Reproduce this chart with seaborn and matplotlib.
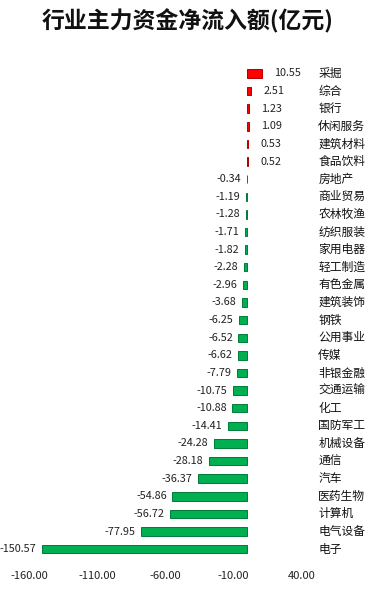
import matplotlib
matplotlib.use("Agg")
import matplotlib.pyplot as plt
import matplotlib.transforms as mtransforms
import seaborn as sns
import pandas as pd

categories = ["采掘", "综合", "银行", "休闲服务", "建筑材料", "食品饮料", "房地产",
              "商业贸易", "农林牧渔", "纺织服装", "家用电器", "轻工制造", "有色金属",
              "建筑装饰", "钢铁", "公用事业", "传媒", "非银金融", "交通运输", "化工",
              "国防军工", "机械设备", "通信", "汽车", "医药生物", "计算机", "电气设备", "电子"]
values = [10.55, 2.51, 1.23, 1.09, 0.53, 0.52, -0.34,
          -1.19, -1.28, -1.71, -1.82, -2.28, -2.96,
          -3.68, -6.25, -6.52, -6.62, -7.79, -10.75, -10.88,
          -14.41, -24.28, -28.18, -36.37, -54.86, -56.72, -77.95, -150.57]
xticks = [-160, -110, -60, -10, 40]
title = "行业主力资金净流入额(亿元)"

sns.set_theme(style="white")
plt.rcParams['font.family'] = ['Noto Sans CJK SC', 'DejaVu Sans']
plt.rcParams['axes.unicode_minus'] = False

df = pd.DataFrame({"cat": categories, "val": values,
                   "sign": ["pos" if v >= 0 else "neg" for v in values]})

fig = plt.figure(figsize=(3.75, 5.96), dpi=100)
ax = fig.add_axes([0.077, 0.052, 0.728, 0.841])

sns.barplot(data=df, x="val", y="cat", hue="sign", orient="h",
            palette={"pos": "#FF0000", "neg": "#00B050"}, saturation=1,
            width=0.48, dodge=False, legend=False, ax=ax,
            edgecolor="none")

# subtle 3D-like darker edge on each bar
for p in ax.patches:
    fc = p.get_facecolor()
    p.set_edgecolor((fc[0] * 0.7, fc[1] * 0.7, fc[2] * 0.7, 1))
    p.set_linewidth(0.7)

ax.set_xlim(-160, 40)
ax.set_ylim(27.9, -0.55)
ax.set_xticks(xticks)
ax.set_xticklabels([f"{t:.2f}" for t in xticks], fontsize=8, color="#222222")
ax.tick_params(axis="x", length=0, pad=4)
ax.set_yticks([])
ax.set_xlabel("")
ax.set_ylabel("")
for s in ax.spines.values():
    s.set_visible(False)

# value labels
for i, v in enumerate(values):
    if v >= 0:
        ax.annotate(f"{v:.2f}", xy=(v, i), xytext=(9, 0), textcoords="offset points",
                    ha="left", va="center", fontsize=7.8, color="#222222")
    else:
        ax.annotate(f"{v:.2f}", xy=(v, i), xytext=(-4, 0), textcoords="offset points",
                    ha="right", va="center", fontsize=7.8, color="#222222")

# category labels on the right
trans = mtransforms.blended_transform_factory(ax.transAxes, ax.transData)
for i, c in enumerate(categories):
    ax.text(1.06, i, c, transform=trans, ha="left", va="center", fontsize=8.5,
            color="#111111", clip_on=False)

fig.text(0.5, 0.965, title, ha="center", va="center", fontsize=16.5,
         fontweight="bold", color="#111111")

fig.savefig("out.png", dpi=100)
